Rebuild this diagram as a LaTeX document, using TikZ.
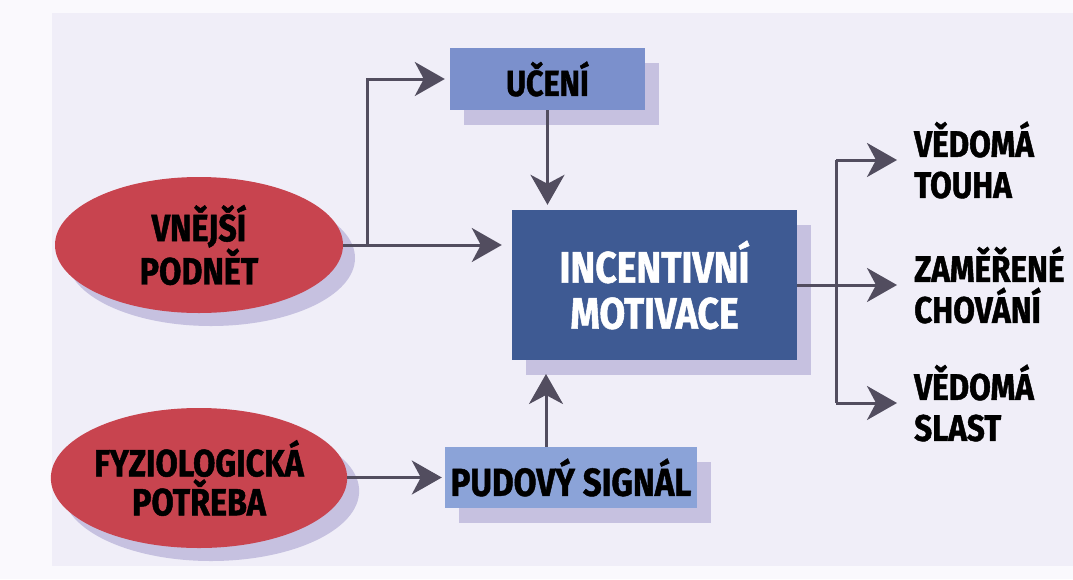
\documentclass[tikz,border=0pt]{standalone}
\usepackage{fontspec}
\setmainfont{Fira Sans}[FakeStretch=0.85,BoldFeatures={FakeBold=1.2}]
\usetikzlibrary{arrows.meta,shapes.geometric,shadows}
\definecolor{pagec}{HTML}{FAF9FD}
\definecolor{panelc}{HTML}{F0EEF8}
\definecolor{redc}{HTML}{C8444F}
\definecolor{mainc}{HTML}{3E5A93}
\definecolor{ucc}{HTML}{7B90CC}
\definecolor{pudc}{HTML}{8BA3D8}
\definecolor{shadowc}{HTML}{C6C1E0}
\definecolor{arrowc}{HTML}{524D5F}
\begin{document}
\begin{tikzpicture}[x=1pt,y=-1pt,
  shad/.style={drop shadow={shadow xshift=14pt,shadow yshift=-15pt,fill=shadowc,opacity=1}},
  shadell/.style={drop shadow={shadow xshift=12pt,shadow yshift=-13pt,fill=shadowc,opacity=1}},
  redell/.style={ellipse,fill=redc,inner sep=0pt,align=center,shadell,
    font=\bfseries\fontsize{38}{39}\selectfont},
  bluebox/.style={rectangle,inner sep=0pt,align=center,shad},
  outtext/.style={anchor=west,inner sep=0pt,align=left,
    font=\bfseries\fontsize{37}{41}\selectfont},
  arr/.style={draw=arrowc,line width=3pt,
    -{Stealth[length=30pt,width=34pt,inset=9pt]}},
  ln/.style={draw=arrowc,line width=3pt}]
\useasboundingbox (0,0) rectangle (1073,579);
\fill[pagec] (0,0) rectangle (1073,579);
\fill[panelc] (52,13) rectangle (1073,566);

\node[redell,minimum width=288pt,minimum height=136pt] (vn) at (199,245) {VNĚJŠÍ\\PODNĚT};
\node[redell,minimum width=288pt,minimum height=140pt] (fyz) at (199,478) {FYZIOLOGICKÁ\\POTŘEBA};

\node[bluebox,fill=ucc,minimum width=195pt,minimum height=62pt,
  font=\bfseries\fontsize{36}{37}\selectfont] (uc) at (547.5,79) {UČENÍ};
\node[bluebox,fill=mainc,text=white,minimum width=285pt,minimum height=150pt,
  font=\bfseries\fontsize{44}{46}\selectfont] (main) at (654.5,285) {INCENTIVNÍ\\MOTIVACE};
\node[bluebox,fill=pudc,minimum width=252pt,minimum height=61pt,
  font=\bfseries\fontsize{39}{40}\selectfont] (pud) at (571,477.5) {PUDOVÝ SIGNÁL};

\node[outtext] (o1) at (914,160) {VĚDOMÁ\\TOUHA};
\node[outtext] (o2) at (914,285) {ZAMĚŘENÉ\\CHOVÁNÍ};
\node[outtext] (o3) at (914,403) {VĚDOMÁ\\SLAST};

% left connectors
\coordinate (b1) at (367,245);
\draw[arr,shorten >=10pt] (vn.east |- b1) -- (b1 -| main.west);
\draw[arr,shorten >=5pt] (b1) |- (uc.west);
\draw[arr,shorten >=5pt] (uc.south) -- (uc.south |- main.north);
\coordinate (mb) at (546,374);
\draw[arr] (pud.north -| mb) -- (mb);
\draw[arr,shorten >=3pt] (fyz.east |- pud.west) -- (pud.west);

% right connectors
\coordinate (ob1) at (836,160);
\coordinate (ob3) at (836,403);
\draw[ln] (ob1) -- (ob3);
\draw[ln] (main.east) -- (main.east -| ob1);
\draw[arr,shorten >=17pt] (ob1) -- (o1.west);
\draw[arr,shorten >=17pt] (ob1 |- o2.west) -- (o2.west);
\draw[arr,shorten >=17pt] (ob3) -- (o3.west);
\end{tikzpicture}
\end{document}
